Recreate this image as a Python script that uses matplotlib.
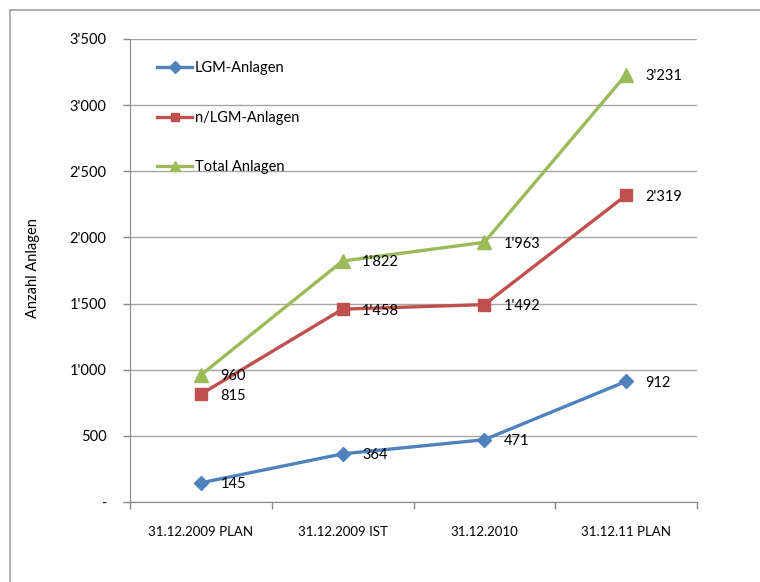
import matplotlib
matplotlib.use("Agg")
import matplotlib.pyplot as plt
from matplotlib.patches import Rectangle
from matplotlib.ticker import FuncFormatter

categories = ["31.12.2009 PLAN", "31.12.2009 IST", "31.12.2010", "31.12.11 PLAN"]
lgm = [145, 364, 471, 912]
nlgm = [815, 1458, 1492, 2319]
total = [960, 1822, 1963, 3231]
series_names = ["LGM-Anlagen", "n/LGM-Anlagen", "Total Anlagen"]
yticks = [0, 500, 1000, 1500, 2000, 2500, 3000, 3500]

plt.rcParams['font.family'] = ['Lato', 'DejaVu Sans']

W, H = 760, 582
fig = plt.figure(figsize=(W/100, H/100), dpi=100)
# outer chart border (right/bottom cut off in reference)
fig.patches.append(Rectangle((10/W, -0.1), 1.2, (H-10)/H + 0.1, transform=fig.transFigure,
                             fill=False, edgecolor='#A0A0A0', linewidth=1.2))

ax = fig.add_axes([130/W, 1 - 502/H, (697-130)/W, (502-39)/H])

def fmt(v, pos=None):
    v = int(round(v))
    if v == 0:
        return "-"
    s = f"{v:,}".replace(",", "'")
    return s

colors = ['#4F81BD', '#C0504D', '#9BBB59']
markers = ['D', 's', '^']
msizes = [7.5, 8.5, 9.5]
x = list(range(len(categories)))
for data, c, m, ms, name in zip([lgm, nlgm, total], colors, markers, msizes, series_names):
    ax.plot(x, data, color=c, marker=m, markersize=ms, linewidth=2.4, label=name, zorder=3)
    for xi, yi in zip(x, data):
        ax.annotate(fmt(yi), (xi, yi), xytext=(14, -1), textcoords='offset points',
                    ha='left', va='center', fontsize=10.5, color='black')

ax.set_xlim(-0.5, len(categories) - 0.5)
ax.set_ylim(0, 3500)
ax.set_yticks(yticks)
ax.yaxis.set_major_formatter(FuncFormatter(fmt))
ax.set_xticks(x)
ax.set_xticklabels(categories, fontsize=9.5)
ax.set_xticks([i - 0.5 for i in range(len(categories) + 1)], minor=True)
ax.tick_params(axis='x', which='major', length=0, pad=17)
ax.tick_params(axis='x', which='minor', length=5, color='#888888', width=1)
ax.tick_params(axis='y', length=5, color='#888888', width=1, labelsize=10.5, pad=12)
ax.grid(axis='y', color='#A6A6A6', linewidth=1)
ax.set_axisbelow(True)
for s in ['top', 'right']:
    ax.spines[s].set_visible(False)
ax.spines['left'].set_color('#888888')
ax.spines['bottom'].set_color('#888888')
ax.set_ylabel("Anzahl Anlagen", fontsize=10.5, labelpad=8)
ax.yaxis.set_label_coords(-0.158, 0.505)

leg = ax.legend(loc='upper left', bbox_to_anchor=(0.038, 0.965), frameon=False, fontsize=10.5,
                labelspacing=2.45, handlelength=2.4, handletextpad=0.15, borderaxespad=0,
                markerscale=0.75)

fig.savefig("out.png", dpi=100)
